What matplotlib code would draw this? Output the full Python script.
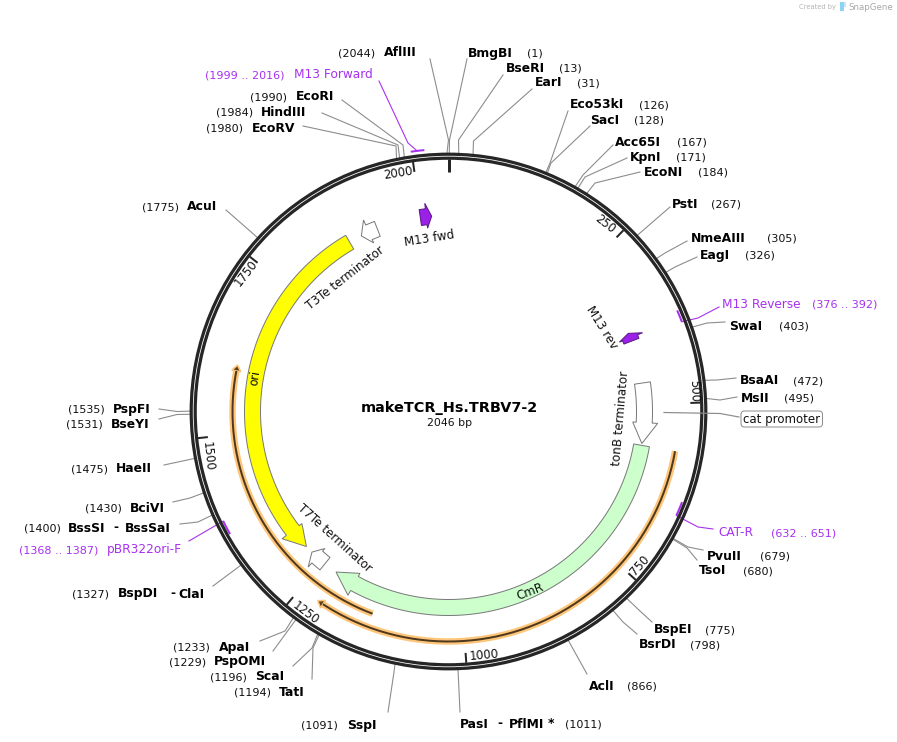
import math
import matplotlib
matplotlib.use("Agg")
import matplotlib.pyplot as plt
from matplotlib.patches import Polygon, FancyBboxPatch, Circle, Rectangle

TOTAL_BP = 2046
TITLE = "makeTCR_Hs.TRBV7-2"
SUBTITLE = "2046 bp"

# ---- data -------------------------------------------------------------
enzyme_names = ["AflIII", "BmgBI", "BseRI", "EarI", "Eco53kI", "SacI", "Acc65I", "KpnI", "EcoNI",
                "PstI", "NmeAIII", "EagI", "SwaI", "BsaAI", "MsII", "PvuII", "TsoI", "BspEI",
                "BsrDI", "AclI", "PasI", "SspI", "TatI", "ScaI", "PspOMI", "ApaI", "BspDI",
                "BssSI", "BciVI", "HaeII", "BseYI", "PspFI", "AcuI", "EcoRV", "HindIII", "EcoRI"]
enzyme_sites = [2044, 1, 13, 31, 126, 128, 167, 171, 184,
                267, 305, 326, 403, 472, 495, 679, 680, 775,
                798, 866, 1011, 1091, 1194, 1196, 1229, 1233, 1327,
                1400, 1430, 1475, 1531, 1535, 1775, 1980, 1984, 1990]

tick_values = [250, 500, 750, 1000, 1250, 1500, 1750, 2000]

primer_names = ["M13 Forward", "M13 Reverse", "CAT-R", "pBR322ori-F"]
primer_starts = [1999, 376, 632, 1368]
primer_ends = [2016, 392, 651, 1387]

feature_tail = {"ori": 1874, "CmR": 568, "tonB terminator": 464, "T7Te terminator": 1245,
                "T3Te terminator": 1925, "M13 fwd": 1999, "M13 rev": 392}
feature_base = {"ori": 1322, "CmR": 1186, "tonB terminator": 530, "T7Te terminator": 1262,
                "T3Te terminator": 1910, "M13 fwd": 2009, "M13 rev": 386}
feature_tip = {"ori": 1287, "CmR": 1222, "tonB terminator": 565, "T7Te terminator": 1274,
               "T3Te terminator": 1896, "M13 fwd": 2018, "M13 rev": 378}

strand_starts = [568, 1140]
strand_ends = [1220, 1605]

# ---- layout (pixels) ---------------------------------------------------
W, H = 897, 742
CX, CY = 448.5, 411.5
BLACK = "#000000"
LEAD = "#8c8c8c"
PURPLE = "#a830f0"

# name -> name x, label centre y, number x, leader end, leader elbow (or None)
enzyme_layout = {
    "AflIII":  (384, 52, 338, (430, 59), (448.5, 140)),
    "BmgBI":   (468, 52, 527, (467, 59), (449.5, 140)),
    "BseRI":   (506, 67, 559, (503, 75), (458.5, 140)),
    "EarI":    (535, 82, 577, (532, 89), (473.5, 141)),
    "Eco53kI": (570, 104, 639, (568, 111), (550, 163)),
    "SacI":    (590, 119, 634, (590, 126), (551, 163)),
    "Acc65I":  (615, 141, 677, (613, 145), (583, 175)),
    "KpnI":    (630, 156, 676, (627, 158), (585, 177)),
    "EcoNI":   (644, 171, 698, (640, 172), (595, 183)),
    "PstI":    (672, 203, 711, (670, 207), None),
    "NmeAIII": (691, 237, 767, (687, 241), (665, 253)),
    "EagI":    (700, 254, 745, (697, 257), (675, 267)),
    "SwaI":    (729, 325, 779, (725, 322), (707, 323)),
    "BsaAI":   (740, 380, 793, (736, 378), (717, 380)),
    "MsII":    (741, 397, 784, (737, 397), (720, 400)),
    "PvuII":   (707, 555, 760, (703, 550), (688, 547)),
    "TsoI":    (699, 570, 743, (697, 560), (687, 548)),
    "BspEI":   (654, 629, 705, (652, 622), (640, 611)),
    "BsrDI":   (639, 644, 690, (637, 634), (623, 622)),
    "AclI":    (589, 685, 627, (587, 674), None),
    "PasI":    (460, 723, 565, (460, 712), None),
    "SspI":    (347, 724, 301, (388, 712), (394, 672)),
    "TatI":    (279, 691, 234, (312, 679), (313, 648)),
    "ScaI":    (255, 676, 210, (293, 666), (312, 648)),
    "PspOMI":  (214, 661, 169, (273, 651), None),
    "ApaI":    (219, 646, 173, (260, 641), (285, 631)),
    "BspDI":   (118, 593, 72, (213, 586), None),
    "BssSI":   (68, 527, 24, (180, 524), (198, 522)),
    "BciVI":   (130, 507, 85, (173, 502), (190, 498)),
    "HaeII":   (116, 468, 71, (164, 465), None),
    "BseYI":   (111, 423, 66, (159, 419), (177, 414.5)),
    "PspFI":   (113, 408, 68, (159, 409), (177, 411.5)),
    "AcuI":    (187, 206, 142, (226, 210), None),
    "EcoRV":   (252, 127, 206, (303, 126), (396, 146)),
    "HindIII": (261, 111, 216, (322, 113), (398, 145)),
    "EcoRI":   (296, 96, 250, (342, 100), (403, 145)),
}
extra_bold = [("-", 170, 593), ("ClaI", 178, 593), ("-", 113, 527), ("BssSaI", 125, 527),
              ("-", 497, 723), ("PflMI", 509, 723), ("*", 548, 723)]

primer_layout = {
    "M13 Forward": (294, 74, 205, [(379, 81), (408, 143)], 262.5, 2007),
    "M13 Reverse": (722, 303, 812, [(719, 307), (698, 318)], 250, 392),
    "CAT-R": (718, 532, 771, [(713, 529), (698, 527)], 250.5, 651),
    "pBR322ori-F": (107, 549, 19, [(189, 541), (213, 527)], 250.5, 1387),
}

tick_label_pos = {250: (605, 224), 500: (694, 391), 750: (640, 565), 1000: (484, 655),
                  1250: (306, 613), 1500: (208, 456), 1750: (246, 273), 2000: (398, 173)}
tick_label_rot = {250: -38, 500: -88, 750: 48, 1000: 5, 1250: -37, 1500: -84, 1750: 52, 2000: 9}

feature_style = {"ori": "#ffff00", "CmR": "#ccffcc", "tonB terminator": "#ffffff",
                 "T7Te terminator": "#ffffff", "T3Te terminator": "#ffffff",
                 "M13 fwd": "#9b20e8", "M13 rev": "#9b20e8"}
feature_label = {"ori": (255, 378, 81, 8.4), "CmR": (530, 592, 21, 8.6),
                 "tonB terminator": (621, 418, 85, 8.6),
                 "T7Te terminator": (335, 538, -42, 8.6),
                 "T3Te terminator": (345, 278, 38, 8.6),
                 "M13 fwd": (429, 239, 9, 8.6), "M13 rev": (602, 328, -58, 8.6)}


def px(v):
    return v * 0.72


def pol(bp, r):
    a = math.radians(bp / TOTAL_BP * 360.0)
    return CX + r * math.sin(a), CY - r * math.cos(a)


def arc(b0, b1, r, n=160):
    return [pol(b0 + (b1 - b0) * i / n, r) for i in range(n + 1)]


def arrow_points(tail, base, tip):
    r0, r1 = (188, 204)
    rb0, rb1 = (184.5, 209.5)
    pts = arc(tail, base, r1) + [pol(base, rb1), pol(tip, (r0 + r1) / 2), pol(base, rb0)]
    pts += arc(base, tail, r0)
    return pts


fig = plt.figure(figsize=(W / 100, H / 100), dpi=100)
ax = fig.add_axes([0, 0, 1, 1])
ax.set_xlim(0, W)
ax.set_ylim(H, 0)
ax.axis("off")

# leaders, under the ring
for name, site in zip(enzyme_names, enzyme_sites):
    _, _, _, end, elbow = enzyme_layout[name]
    pts = [end] + ([elbow] if elbow else []) + [pol(site, 258)]
    ax.plot(*zip(*pts), color=LEAD, lw=px(1.1), zorder=2, solid_joinstyle="round")

cat_line = [(664, 412.5), (720, 413.5), (739, 417)]
ax.plot(*zip(*cat_line), color=LEAD, lw=px(1.2), zorder=6)

# primers
for name, s, e in zip(primer_names, primer_starts, primer_ends):
    nx, ny, numx, lead, rt, joint = primer_layout[name]
    ax.plot(*zip(*arc(s, e, rt, 12)), color=PURPLE, lw=px(2), zorder=3, solid_capstyle="butt")
    ax.plot(*zip(*(lead + [pol(joint, rt)])), color=PURPLE, lw=px(1.1), zorder=2)
    ax.text(nx, ny + 4.5, name, color=PURPLE, fontsize=8.7, ha="left", va="baseline", zorder=7)
    ax.text(numx, ny + 4.5, f"({s} .. {e})", color=PURPLE, fontsize=8.0, ha="left", va="baseline", zorder=7)

# ring
ax.add_patch(Circle((CX, CY), 257.3, fill=False, ec="#262626", lw=px(3.2), zorder=4))
ax.add_patch(Circle((CX, CY), 253.3, fill=False, ec="#262626", lw=px(3.2), zorder=4))

# ticks
ax.plot(*zip(pol(0, 253), pol(0, 240)), color="#262626", lw=px(3), zorder=5, solid_capstyle="butt")
for t in tick_values:
    ax.plot(*zip(pol(t, 252), pol(t, 242)), color="#262626", lw=px(2), zorder=5, solid_capstyle="butt")
    x, y = tick_label_pos[t]
    ax.text(x, y, str(t), fontsize=8.4, color="#111111", rotation=tick_label_rot[t],
            ha="center", va="center", rotation_mode="anchor", zorder=7)

# strand tracks
for s, e, r in zip(strand_starts, strand_ends, (230, 216)):
    stop = e - 9
    ax.plot(*zip(*arc(s, stop, r)), color="#fdc67a", lw=px(6.5), zorder=3, solid_capstyle="butt")
    head = [pol(stop, r - 4.5), pol(e, r), pol(stop, r + 4.5)]
    ax.add_patch(Polygon(head, closed=True, fc="#5b4020", ec="#fdc67a", lw=px(1.6), zorder=3))
    ax.plot(*zip(*arc(s, stop, r)), color="#50381c", lw=px(2), zorder=3.5, solid_capstyle="butt")

# features
for name, fc in feature_style.items():
    pts = arrow_points(feature_tail[name], feature_base[name], feature_tip[name])
    ec = "#5a1a80" if name.startswith("M13") else "#7a7a7a"
    ax.add_patch(Polygon(pts, closed=True, fc=fc, ec=ec, lw=px(1), zorder=3, joinstyle="miter"))
    x, y, rot, fs = feature_label[name]
    ax.text(x, y, name, fontsize=fs, color="#111111", rotation=rot, ha="center", va="center",
            rotation_mode="anchor", zorder=7)

# enzyme labels
for name, site in zip(enzyme_names, enzyme_sites):
    nx, y, numx, _, _ = enzyme_layout[name]
    ax.text(nx, y + 4.5, name, fontsize=8.9, fontweight="bold", color=BLACK, ha="left", va="baseline", zorder=7)
    ax.text(numx, y + 4.5, f"({site})", fontsize=8.0, color="#111111", ha="left", va="baseline", zorder=7)
for txt, x, y in extra_bold:
    ax.text(x, y + 4.5, txt, fontsize=8.9, fontweight="bold", color=BLACK, ha="left", va="baseline", zorder=7)

# cat promoter box
ax.add_patch(FancyBboxPatch((743, 413), 77.5, 12, boxstyle="round,pad=2,rounding_size=3.5",
                            fc="white", ec="#8c8c8c", lw=px(1), zorder=6))
ax.text(781.5, 419.3, "cat promoter", fontsize=8.5, color="#111111", ha="center", va="center", zorder=7)

# title
ax.text(449.5, 408, TITLE, fontsize=10.4, fontweight="bold", color=BLACK, ha="center", va="center", zorder=7)
ax.text(449.5, 423, SUBTITLE, fontsize=7.85, color="#111111", ha="center", va="center", zorder=7)

# credit
ax.text(799, 7.5, "Created by", fontsize=4.9, color="#b5b5b5", ha="left", va="center")
ax.add_patch(Rectangle((840, 2), 3.5, 9, fc="#8fd3f4", ec="none"))
ax.add_patch(Rectangle((843.5, 2), 2.5, 4.5, fc="#c5e8f8", ec="none"))
ax.text(848, 7.5, "SnapGene", fontsize=6.2, color="#a8a8a8", ha="left", va="center")

fig.savefig("out.png", dpi=100, facecolor="white")
